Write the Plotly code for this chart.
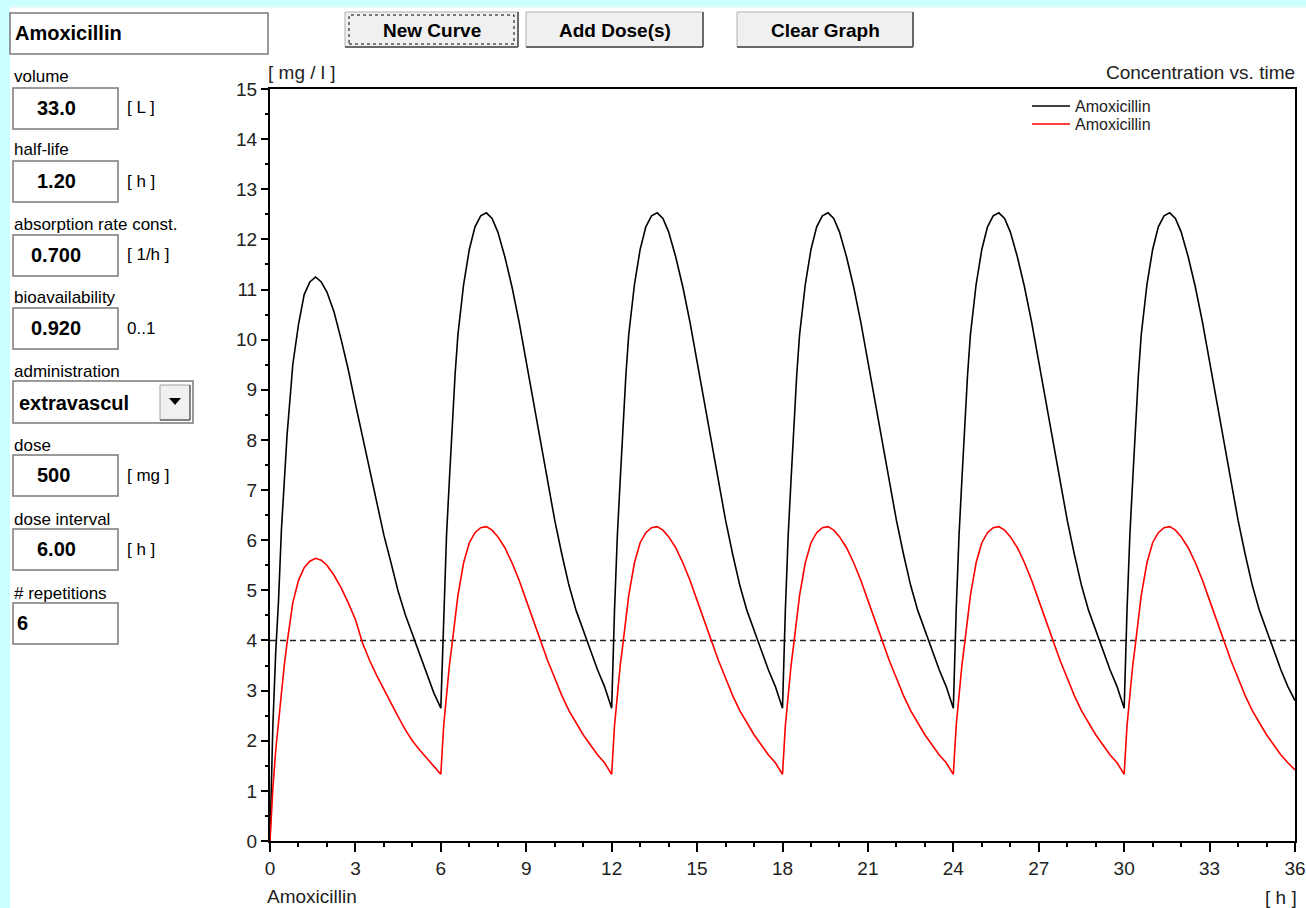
import plotly.graph_objects as go

# ---------------- data ----------------
dose_times_h = [0, 6, 12, 18, 24, 30]
cycle_offsets_h = [0, 0.1, 0.2, 0.3, 0.4, 0.5, 0.6, 0.8, 1.0, 1.2, 1.4, 1.6, 1.8,
                   2.0, 2.25, 2.5, 2.75, 3.0, 3.25, 3.5, 3.75, 4.0, 4.25, 4.5, 4.75,
                   5.0, 5.25, 5.5, 5.75]
black_first_dose = [0, 2.3, 3.75, 4.8, 6.2, 7.1, 8.1, 9.5, 10.3, 10.9, 11.15, 11.25, 11.15,
                    10.95, 10.55, 10.0, 9.4, 8.72, 8.05, 7.4, 6.78, 6.1, 5.55, 4.98, 4.52,
                    4.12, 3.72, 3.33, 2.96]
black_repeat_dose = [2.65, 4.6, 6.1, 7.2, 8.3, 9.3, 10.1, 11.1, 11.8, 12.25, 12.47, 12.53, 12.42,
                     12.15, 11.65, 11.05, 10.35, 9.55, 8.75, 7.95, 7.15, 6.4, 5.72, 5.1, 4.6,
                     4.2, 3.8, 3.42, 3.08]
red_first_dose = [0, 1.05, 1.8, 2.4, 2.95, 3.5, 3.95, 4.75, 5.2, 5.45, 5.58, 5.64, 5.6,
                  5.5, 5.3, 5.05, 4.75, 4.42, 3.95, 3.6, 3.3, 3.02, 2.75, 2.48, 2.22,
                  2.0, 1.82, 1.65, 1.48]
red_repeat_dose = [1.33, 2.3, 2.95, 3.5, 3.95, 4.45, 4.9, 5.55, 5.95, 6.15, 6.25, 6.27, 6.2,
                   6.07, 5.85, 5.55, 5.2, 4.8, 4.4, 4.0, 3.6, 3.25, 2.9, 2.6, 2.35,
                   2.12, 1.92, 1.72, 1.56]
end_hour = [36]
black_end = [2.8]
red_end = [1.42]
mic_hours = [0, 36]
mic_level = [4.0, 4.0]
series_names = ["Amoxicillin", "Amoxicillin"]
series_colors = ["#000000", "#ff0000"]
x_ticks = list(range(0, 37, 3))
y_ticks = list(range(0, 16))

# ---------------- build series ----------------
hours, black, red = [], [], []
for i, d in enumerate(dose_times_h):
    bv = black_first_dose if i == 0 else black_repeat_dose
    rv = red_first_dose if i == 0 else red_repeat_dose
    for off, b, r in zip(cycle_offsets_h, bv, rv):
        hours.append(d + off)
        black.append(b)
        red.append(r)
hours += end_hour
black += black_end
red += red_end

# ---------------- geometry helpers ----------------
W, H = 1306, 908
L, R, T, B = 270, 11, 89, 67
PW, PH = W - L - R, H - T - B


def fx(x):
    return (x - L) / PW


def fy(y):
    return (H - B - y) / PH


FONT = "Liberation Sans, Arial, sans-serif"
shapes, annotations = [], []


def rect(x0, y0, x1, y1, fill, line="#808080", lw=1.2, dash=None):
    ln = dict(color=line, width=lw)
    if dash:
        ln["dash"] = dash
    if lw == 0:
        ln = dict(width=0)
    shapes.append(dict(type="rect", xref="paper", yref="paper",
                       x0=fx(x0), x1=fx(x1), y0=fy(y1), y1=fy(y0),
                       fillcolor=fill, line=ln, layer="above"))


def hline(x0, x1, y, color, lw):
    shapes.append(dict(type="line", xref="paper", yref="paper",
                       x0=fx(x0), x1=fx(x1), y0=fy(y), y1=fy(y),
                       line=dict(color=color, width=lw)))


def vline(x, y0, y1, color, lw):
    shapes.append(dict(type="line", xref="paper", yref="paper",
                       x0=fx(x), x1=fx(x), y0=fy(y0), y1=fy(y1),
                       line=dict(color=color, width=lw)))


def text(x, y, s, size=17, bold=False, anchor="left", color="#000"):
    if bold:
        s = "<b>" + s + "</b>"
    annotations.append(dict(xref="paper", yref="paper", x=fx(x), y=fy(y), text=s,
                            showarrow=False, xanchor=anchor, yanchor="middle",
                            font=dict(size=size, family=FONT, color=color)))


# window background strips
rect(0, 0, W, 7, "#ccffff", lw=0)
rect(0, 6, W, 8, "#e6fbfb", lw=0)
rect(0, 0, 10, H, "#ccffff", lw=0)

# title box
rect(10, 13, 268, 54, "#ffffff", line="#7a7a7a", lw=1.5)
text(13, 33, "Amoxicillin", size=20, bold=True)

# input fields
fields = [
    ("volume", 76, 88, "33.0", 56, "center", "[ L ]"),
    ("half-life", 149, 161, "1.20", 56, "center", "[ h ]"),
    ("absorption rate const.", 224, 235, "0.700", 56, "center", "[ 1/h ]"),
    ("bioavailability", 297, 308, "0.920", 56, "center", "0..1"),
    ("dose", 445, 455, "500", 53, "center", "[ mg ]"),
    ("dose interval", 519, 529, "6.00", 56, "center", "[ h ]"),
    ("# repetitions", 593, 603, "6", 15, "left", ""),
]
for lab, ly, top, val, vx, va, unit in fields:
    text(12, ly, lab, size=17)
    rect(13, top, 118, top + 41, "#ffffff", line="#7a7a7a", lw=1.5)
    text(vx, top + 20, val, size=20, bold=True, anchor=va)
    if unit:
        text(125, top + 20, unit, size=17)

# administration dropdown
text(12, 371, "administration", size=17)
rect(13, 381, 193, 423, "#ffffff", line="#7a7a7a", lw=1.5)
text(17, 403, "extravascul", size=20, bold=True)
rect(160, 385, 190, 420, "#f0f0f0", line="#a0a0a0", lw=1)
hline(160, 190, 420, "#696969", 1.5)
vline(190, 385, 420, "#696969", 1.5)
shapes.append(dict(type="path", xref="paper", yref="paper",
                   path="M %f,%f L %f,%f L %f,%f Z" % (fx(169), fy(398), fx(181), fy(398), fx(175), fy(405)),
                   fillcolor="#000", line=dict(width=0)))

# buttons
for x0, x1, lab in [(345, 518, "New Curve"), (526, 703, "Add Dose(s)"), (737, 913, "Clear Graph")]:
    rect(x0, 12, x1, 47, "#f0f0f0", line="#b0b0b0", lw=1)
    hline(x0, x1, 47, "#696969", 2)
    vline(x1, 12, 47, "#696969", 2)
    text((x0 + x1) / 2, 30, lab, size=19, bold=True, anchor="center")
rect(349, 15, 514, 44, "rgba(0,0,0,0)", line="#000", lw=1, dash="dot")

# chart texts
text(266, 72, "[ mg / l ]", size=19, color="#222")
text(1297, 72, "Concentration vs. time", size=19, anchor="right", color="#222")
text(265, 896, "Amoxicillin", size=19, color="#222")
text(1299, 897, "[ h ]", size=19, anchor="right", color="#222")

# legend (drawn inside the plot, top right)
for k, (nm, col) in enumerate(zip(series_names, series_colors)):
    yy = 106 + 18 * k
    hline(1032, 1070, yy, col, 1.5)
    text(1073, yy, nm, size=16, color="#222")

# ---------------- figure ----------------
fig = go.Figure()
fig.add_trace(go.Scatter(x=mic_hours, y=mic_level, mode="lines", showlegend=False,
                         line=dict(color="#222", width=1.5, dash="6px,4px"), hoverinfo="skip"))
fig.add_trace(go.Scatter(x=hours, y=black, mode="lines", name=series_names[0], showlegend=False,
                         line=dict(color=series_colors[0], width=1.6)))
fig.add_trace(go.Scatter(x=hours, y=red, mode="lines", name=series_names[1], showlegend=False,
                         line=dict(color=series_colors[1], width=1.6)))

axis_common = dict(showline=True, linecolor="#000", linewidth=2, mirror=True,
                   showgrid=False, zeroline=False, ticks="outside", tickcolor="#000",
                   tickwidth=1.5, tickfont=dict(size=19, family=FONT, color="#222"))
fig.update_layout(
    width=W, height=H,
    margin=dict(l=L, r=R, t=T, b=B, autoexpand=False),
    paper_bgcolor="#ffffff", plot_bgcolor="#ffffff",
    showlegend=False,
    xaxis=dict(range=[0, 36], tickmode="array", tickvals=x_ticks, ticklen=9,
               minor=dict(dtick=1, tick0=0, ticks="outside", ticklen=4, tickcolor="#000", tickwidth=1.5),
               **axis_common),
    yaxis=dict(range=[0, 15], tickmode="array", tickvals=y_ticks, ticklen=7,
               minor=dict(dtick=0.5, tick0=0, ticks="outside", ticklen=3.5, tickcolor="#000", tickwidth=1.5),
               **axis_common),
    shapes=shapes, annotations=annotations,
)

fig.write_html("out.html", config={"displayModeBar": False},
               post_script="document.body.style.margin='0';document.body.style.overflow='hidden';")
